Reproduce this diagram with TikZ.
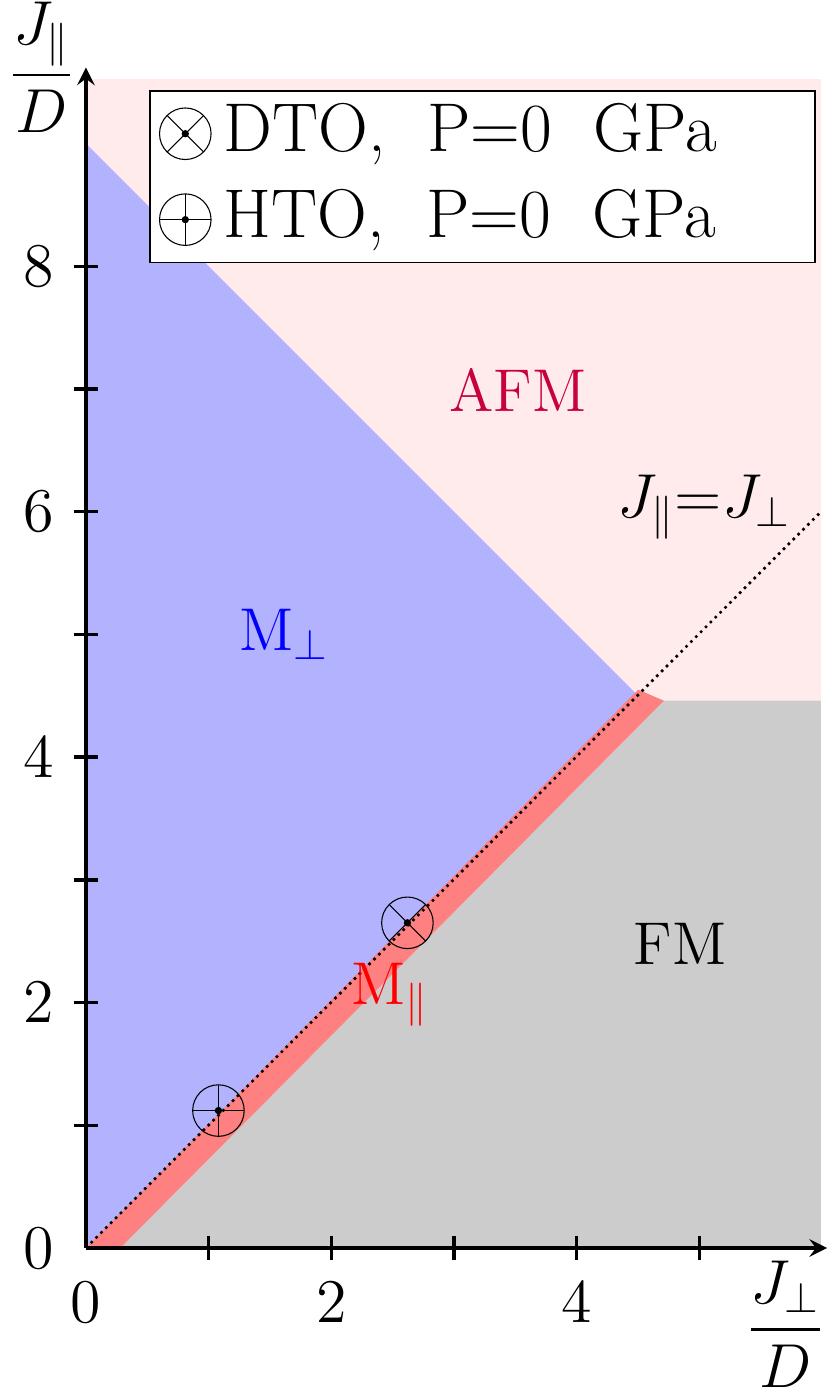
\documentclass[tikz,border=0pt]{standalone}
\usepackage{amsmath}
\begin{document}
\begin{tikzpicture}[x=1cm,y=1cm,
  txt/.style={font=\fontsize{14}{16}\selectfont},
  dto/.pic={\draw[line width=0.25pt] (0,0) circle (0.21); \draw[line width=0.25pt] (45:0.21)--(225:0.21) (135:0.21)--(315:0.21); \fill (0,0) circle (0.03);},
  hto/.pic={\draw[line width=0.25pt] (0,0) circle (0.21); \draw[line width=0.25pt] (0:0.21)--(180:0.21) (90:0.21)--(270:0.21); \fill (0,0) circle (0.03);}]
\useasboundingbox (-0.70,-1.157) rectangle (6.07,10.17);
\definecolor{pinkbg}{RGB}{255,235,235}
\definecolor{bluer}{RGB}{178,178,255}
\definecolor{redr}{RGB}{255,128,128}
\definecolor{greyr}{RGB}{204,204,204}
\definecolor{afmc}{RGB}{200,0,60}
\fill[pinkbg] (0,0) rectangle (5.99,9.53);
\fill[bluer] (0,0) -- (0,9) -- (4.5,4.5) -- cycle;
\fill[greyr] (0.28,0) -- (4.71,4.46) -- (5.99,4.46) -- (5.99,0) -- cycle;
\fill[redr] (0,0) -- (4.5,4.55) -- (4.71,4.46) -- (0.28,0) -- cycle;
\draw[densely dotted, semithick] (0,0) -- (5.99,6.0);
\draw[thick,-stealth] (0,0) -- (6.04,0);
\draw[thick,-stealth] (0,0) -- (0,9.62);
\foreach \i in {1,...,5} \draw[thick] (\i,-0.1) -- (\i,0.1);
\foreach \i in {1,...,8} \draw[thick] (-0.1,\i) -- (0.1,\i);
\foreach \i in {0,2,4} \node[txt] (xl\i) at (\i,-0.44) {$\i$};
\foreach \i in {0,2,4,6,8} \node[txt,anchor=east] (yl\i) at (-0.14,\i) {$\i$};
\node[txt] (ylab) at (-0.36,9.62) {$\dfrac{J_\parallel}{D}$};
\node[txt] (xlab) at (5.7,-0.62) {$\dfrac{J_\perp}{D}$};
\node[txt,text=afmc] (afm) at (3.52,6.99) {AFM};
\node[txt,text=blue] (mperp) at (1.62,5.0) {M$_\perp$};
\node[txt,text=red] (mpar) at (2.48,2.06) {M$_\parallel$};
\node[txt] (fm) at (4.84,2.48) {FM};
\node[txt] (eq) at (5.04,6.04) {$J_\parallel{=}J_\perp$};
\pic at (1.08,1.12) {hto};
\pic at (2.62,2.65) {dto};
\draw[line width=0.4pt, fill=white] (0.52,8.03) rectangle (5.94,9.43);
\pic at (0.81,9.08) {dto};
\pic at (0.81,8.38) {hto};
\node[anchor=west,font=\fontsize{16}{18}\selectfont] (l1) at (1.0,9.08) {DTO,~ P=0~ GPa};
\node[anchor=west,font=\fontsize{16}{18}\selectfont] (l2) at (1.0,8.38) {HTO,~ P=0~ GPa};
\end{tikzpicture}
\end{document}
